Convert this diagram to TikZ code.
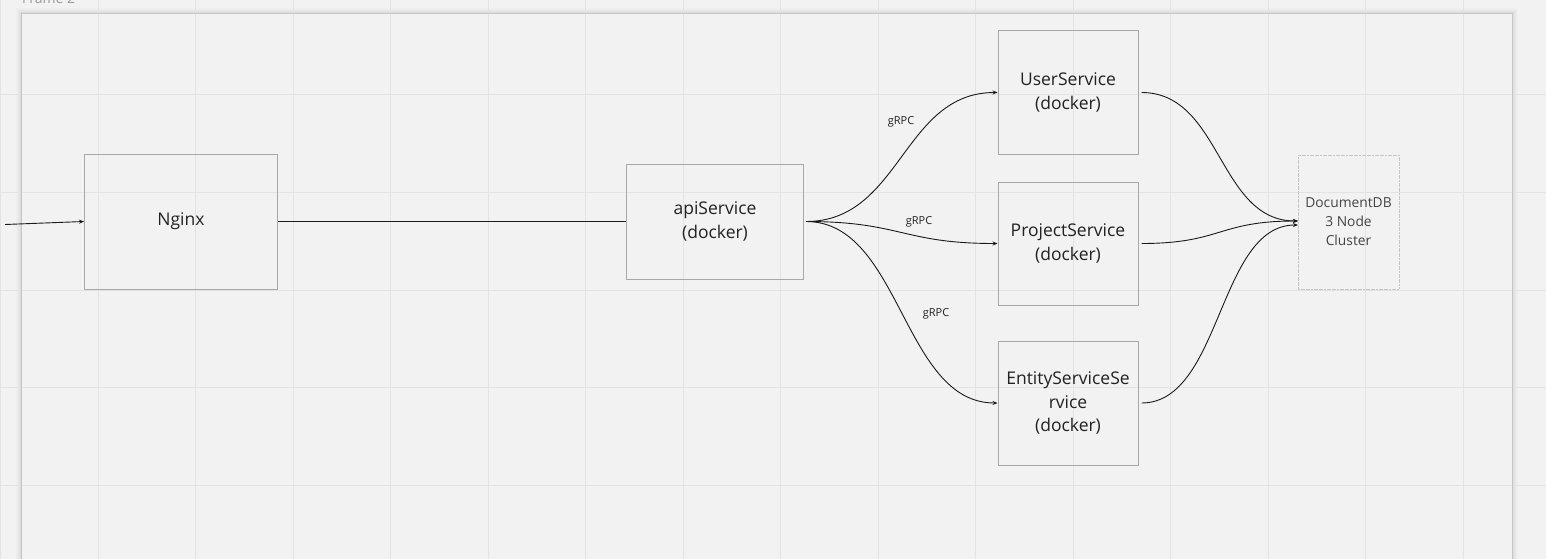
\documentclass[tikz,border=0pt]{standalone}
\usepackage{fontspec}
\setmainfont{Open Sans}
\usetikzlibrary{arrows.meta}
\definecolor{bg}{HTML}{F2F2F2}
\definecolor{gridc}{HTML}{E3E3E3}
\definecolor{framec}{HTML}{C6C6C6}
\definecolor{boxc}{HTML}{A8A8A8}
\definecolor{txt}{HTML}{222222}
\definecolor{dbtxt}{HTML}{444444}
\definecolor{linec}{HTML}{1A1A1A}
\definecolor{titlec}{HTML}{9A9A9A}
\begin{document}
\begin{tikzpicture}[x=1pt,y=-1pt,
  svc/.style={draw=boxc,line width=1pt,inner sep=0pt,align=center,text=txt,font=\fontsize{17.5}{23.5}\selectfont},
  dbbox/.style={draw=framec,line width=0.8pt,dash pattern=on 2pt off 0.6pt,inner sep=0pt,align=center,text=dbtxt,font=\fontsize{13.8}{19}\selectfont,minimum width=101pt,minimum height=134pt},
  conn/.style={draw=linec,line width=0.9pt,-{Stealth[length=5pt,width=4pt]}},
  plain/.style={draw=linec,line width=0.9pt},
  lbl/.style={font=\fontsize{11}{13}\selectfont,text=txt,inner sep=0pt}]
\useasboundingbox (0,0) rectangle (1546,559);
\fill[bg] (0,0) rectangle (1546,559);
% frame shadow
\foreach \i/\o in {1/0.09,2/0.06,3/0.04,4/0.025,5/0.015}
  \draw[black,opacity=\o,line width=1pt] (21-\i,600) -- (21-\i,14-\i) -- (1512+\i,14-\i) -- (1512+\i,600);
% grid
\foreach \k in {0,...,15}
  \draw[gridc,line width=1pt] ({0.5+97.5*\k},0) -- ({0.5+97.5*\k},559);
\foreach \k in {1,...,5}
  \draw[gridc,line width=1pt] (0,{-2.5+97.5*\k}) -- (1546,{-2.5+97.5*\k});
% frame
\draw[framec,line width=1pt] (21,600) -- (21,14) -- (1512,14) -- (1512,600);
\node[anchor=base west,inner sep=0pt,font=\fontsize{14}{16}\selectfont,text=titlec] (ftitle) at (22,3.5) {Frame 2};

% nodes
\node[svc,minimum width=193pt,minimum height=135pt] (nginx) at (181,221.5) {Nginx};
\node[svc,minimum width=177pt,minimum height=115pt] (api) at (715,221.5) {apiService\\(docker)};
\node[svc,minimum width=140pt,minimum height=124pt] (user) at (1068,92.5) {UserService\\(docker)};
\node[svc,minimum width=140pt,minimum height=123pt] (proj) at (1068,243.5) {ProjectService\\(docker)};
\node[svc,minimum width=140pt,minimum height=124pt] (ent) at (1068,403) {EntityServiceSe\\rvice\\(docker)};
\node[dbbox] (db) at (1348.5,222) {DocumentDB\\3 Node\\Cluster};

\coordinate (src) at (5,224.5);
\coordinate (dbin1) at (1298,221);
\coordinate (dbin2) at (1298,225);

% connectors
\draw[conn] (src) -- (nginx.west);
\draw[plain] (nginx.east) -- (api.west);
\draw[conn] ([xshift=2pt]api.east) .. controls +(95,0) and +(-95,0) .. (user.west);
\draw[conn] ([xshift=2pt]api.east) .. controls +(95,0) and +(-95,0) .. (proj.west);
\draw[conn] ([xshift=2pt]api.east) .. controls +(95,0) and +(-95,0) .. (ent.west);
\draw[conn] ([xshift=3pt]user.east) .. controls +(80,0) and +(-80,0) .. (dbin1);
\draw[conn] ([xshift=3pt]proj.east) .. controls +(80,0) and +(-80,0) .. (dbin1);
\draw[conn] ([xshift=3pt]ent.east) .. controls +(80,0) and +(-80,0) .. (dbin2);

% labels
\node[lbl] (l1) at (901,122) {gRPC};
\node[lbl] (l2) at (919,222) {gRPC};
\node[lbl] (l3) at (936,314) {gRPC};
\end{tikzpicture}
\end{document}
